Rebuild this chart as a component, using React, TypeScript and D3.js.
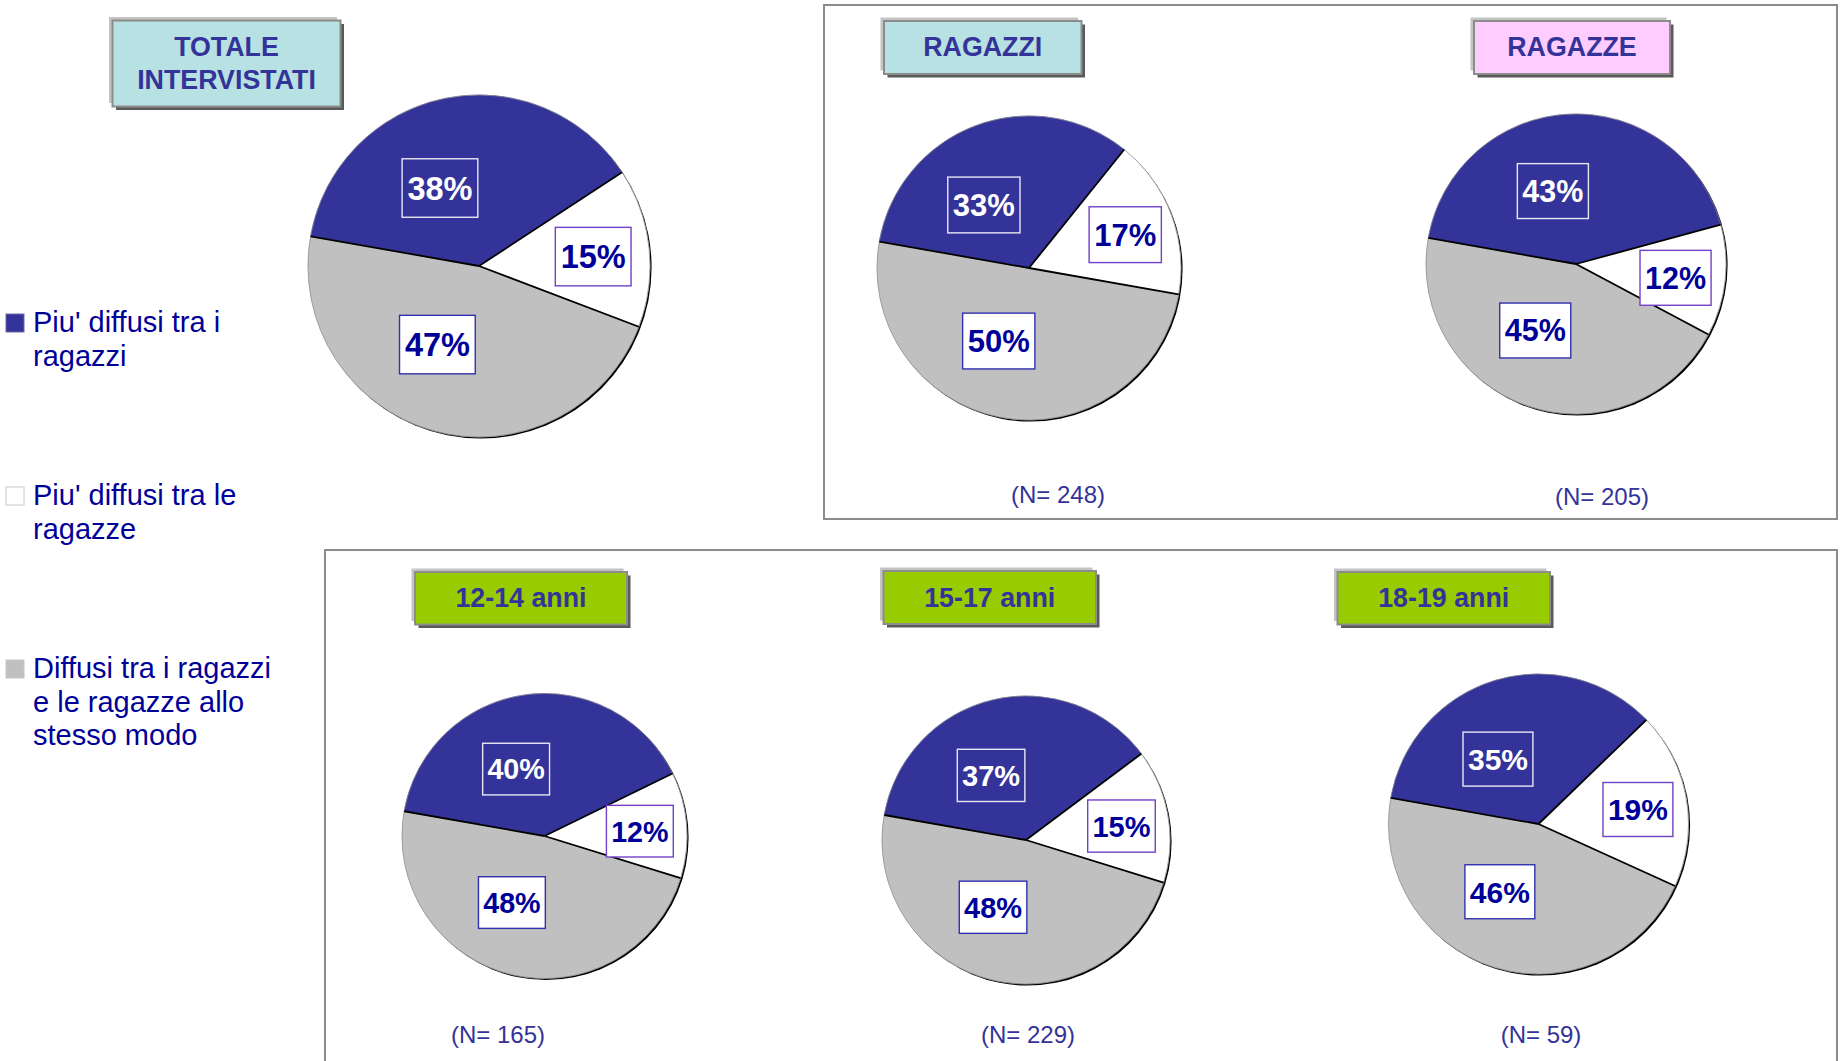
import React from 'react';
import * as d3 from 'd3';

// groups shown, one pie each
const groups = ['TOTALE INTERVISTATI', 'RAGAZZI', 'RAGAZZE', '12-14 anni', '15-17 anni', '18-19 anni'];
const groupTitleLines = [['TOTALE', 'INTERVISTATI'], ['RAGAZZI'], ['RAGAZZE'], ['12-14 anni'], ['15-17 anni'], ['18-19 anni']];

// series (percent)
const boysValues = [38, 33, 43, 40, 37, 35];
const girlsValues = [15, 17, 12, 12, 15, 19];
const bothValues = [47, 50, 45, 48, 48, 46];
const sampleSizes = [null, 248, 205, 165, 229, 59];

const categories = [
  "Piu' diffusi tra i ragazzi",
  "Piu' diffusi tra le ragazze",
  'Diffusi tra i ragazzi e le ragazze allo stesso modo',
];
const legendLines = [
  ["Piu' diffusi tra i", 'ragazzi'],
  ["Piu' diffusi tra le", 'ragazze'],
  ['Diffusi tra i ragazzi', 'e le ragazze allo', 'stesso modo'],
];

const W = 1843;
const H = 1061;
const FONT = "'Liberation Sans', Arial, Helvetica, sans-serif";
const sliceColors = ['#333399', '#ffffff', '#c0c0c0'];
const labelText = ['#ffffff', '#000099', '#000099'];
const labelStroke = ['#e8e8f4', '#7040c8', '#3030b0'];
const labelFill = ['none', '#ffffff', '#ffffff'];
// label placement relative to slice middle (degrees) and radius fraction
const labelShift = [-15, 1.5, 12.5];
const labelRadius = [0.51, 0.67, 0.52];

// layout of each panel
const pieLayout = [
  { cx: 479, cy: 266, r: 171, fs: 32.5 },
  { cx: 1029, cy: 268, r: 152, fs: 31 },
  { cx: 1576, cy: 264, r: 150, fs: 30.5 },
  { cx: 544.5, cy: 836, r: 142.5, fs: 28.7 },
  { cx: 1026, cy: 840, r: 144, fs: 29 },
  { cx: 1538.5, cy: 824, r: 150, fs: 30 },
];
const titleLayout = [
  { x: 112.5, y: 20.5, w: 228, h: 86, fill: '#b7e1e3', base: 56, lh: 32.5 },
  { x: 884, y: 21, w: 197.5, h: 53, fill: '#b7e1e3', base: 56, lh: 0 },
  { x: 1474, y: 21, w: 196, h: 53, fill: '#ffccff', base: 56, lh: 0 },
  { x: 415, y: 572, w: 212, h: 52.5, fill: '#99cc00', base: 607, lh: 0 },
  { x: 883.5, y: 571, w: 212.5, h: 53, fill: '#99cc00', base: 607, lh: 0 },
  { x: 1337.5, y: 572, w: 212.5, h: 52.5, fill: '#99cc00', base: 607, lh: 0 },
];
const nLayout = [null, { x: 1058, y: 503 }, { x: 1602, y: 505 }, { x: 498, y: 1043 }, { x: 1028, y: 1043 }, { x: 1541, y: 1043 }];

const rad = (deg: number) => (deg * Math.PI) / 180;

const pie = d3
  .pie<number>()
  .sort(null)
  .value((d) => d)
  .startAngle(rad(-80))
  .endAngle(rad(280));

const PiePanel = ({ i }: { i: number }) => {
  const { cx, cy, r, fs } = pieLayout[i];
  const values = [boysValues[i], girlsValues[i], bothValues[i]];
  const arcs = pie(values);
  const arc = d3.arc<d3.PieArcDatum<number>>().innerRadius(0).outerRadius(r);
  const bw = fs * 2.33;
  const bh = fs * 1.8;
  return (
    <g>
      <circle cx={cx + 1.6} cy={cy + 1.6} r={r} fill="#000" />
      <g transform={`translate(${cx},${cy})`}>
        {arcs.map((a, k) => (
          <path key={k} d={arc(a) || ''} fill={sliceColors[k]} stroke={sliceColors[k]} strokeWidth={0.5} />
        ))}
        <circle r={r} fill="none" stroke="#8a8a8a" strokeWidth={0.7} />
        {arcs.map((a, k) => (
          <line
            key={k}
            x1={0}
            y1={0}
            x2={Math.sin(a.startAngle) * r}
            y2={-Math.cos(a.startAngle) * r}
            stroke="#000"
            strokeWidth={1.8}
          />
        ))}
        {arcs.map((a, k) => {
          const mid = (a.startAngle + a.endAngle) / 2 + rad(labelShift[k]);
          const lr = r * labelRadius[k];
          const [lx, ly] = d3
            .arc()
            .innerRadius(lr)
            .outerRadius(lr)
            .centroid({ startAngle: mid, endAngle: mid } as any);
          return (
            <g key={k}>
              <rect
                x={lx - bw / 2}
                y={ly - bh / 2}
                width={bw}
                height={bh}
                fill={labelFill[k]}
                stroke={labelStroke[k]}
                strokeWidth={1.4}
              />
              <text
                x={lx}
                y={ly + fs * 0.36}
                textAnchor="middle"
                fontFamily={FONT}
                fontWeight="bold"
                fontSize={fs}
                fill={labelText[k]}
              >
                {`${values[k]}%`}
              </text>
            </g>
          );
        })}
      </g>
    </g>
  );
};

const TitleBox = ({ i }: { i: number }) => {
  const t = titleLayout[i];
  const lines = groupTitleLines[i];
  return (
    <g>
      <rect x={t.x - 3.5} y={t.y - 3.5} width={t.w} height={t.h} fill="#c4c4c4" />
      <rect x={t.x + 3.5} y={t.y + 3.5} width={t.w} height={t.h} fill="#5a5a5a" />
      <rect x={t.x} y={t.y} width={t.w} height={t.h} fill={t.fill} stroke="#8c8c8c" strokeWidth={2} />
      {lines.map((l, k) => (
        <text
          key={k}
          x={t.x + t.w / 2}
          y={t.base + k * t.lh}
          textAnchor="middle"
          fontFamily={FONT}
          fontWeight="bold"
          fontSize={26.8}
          fill="#333399"
        >
          {l}
        </text>
      ))}
    </g>
  );
};

const Legend = () => {
  const tops = [314, 487, 660];
  return (
    <g>
      {categories.map((c, k) => (
        <g key={c}>
          <rect
            x={6}
            y={tops[k]}
            width={18}
            height={18}
            fill={sliceColors[k]}
            stroke={k === 0 ? '#6a6aa8' : '#c8c8c8'}
            strokeWidth={1}
          />
          {legendLines[k].map((l, j) => (
            <text key={j} x={33} y={tops[k] + 18 + j * 33.5} fontFamily={FONT} fontSize={29} fill="#000099">
              {l}
            </text>
          ))}
        </g>
      ))}
    </g>
  );
};

export default function App() {
  return (
    <svg
      width={W}
      height={H}
      viewBox={`0 0 ${W} ${H}`}
      style={{ position: 'absolute', left: 0, top: 0, display: 'block', background: '#fff' }}
    >
      <rect x={0} y={0} width={W} height={H} fill="#fff" />
      {/* panel frames */}
      <rect x={824} y={5} width={1013} height={514} fill="none" stroke="#8c8c8c" strokeWidth={2} />
      <rect x={325} y={550} width={1512} height={560} fill="none" stroke="#8c8c8c" strokeWidth={2} />
      <Legend />
      {groups.map((g, i) => (
        <g key={g}>
          <TitleBox i={i} />
          <PiePanel i={i} />
          {sampleSizes[i] !== null && nLayout[i] && (
            <text
              x={nLayout[i]!.x}
              y={nLayout[i]!.y}
              textAnchor="middle"
              fontFamily={FONT}
              fontSize={24}
              fill="#333399"
            >
              {`(N= ${sampleSizes[i]})`}
            </text>
          )}
        </g>
      ))}
    </svg>
  );
}
